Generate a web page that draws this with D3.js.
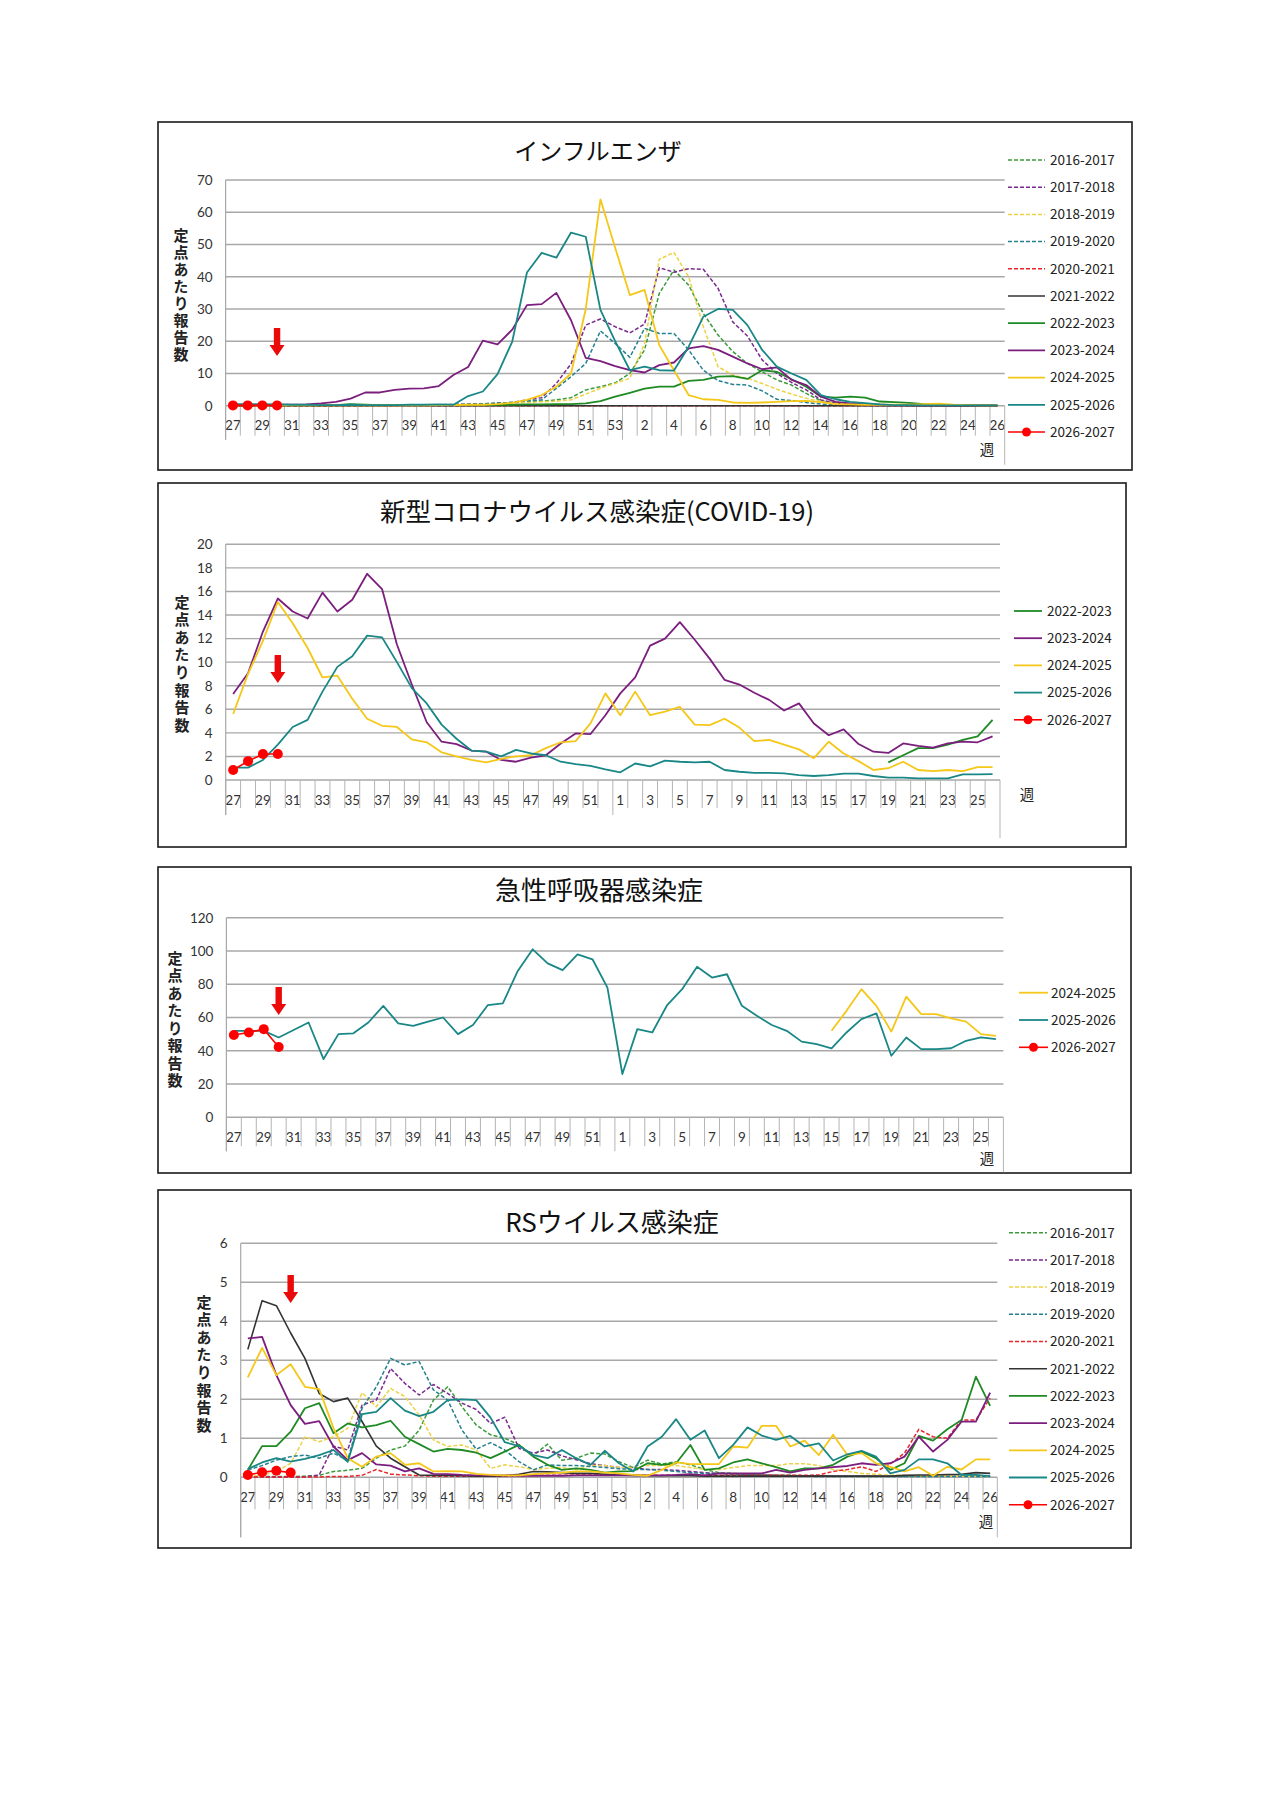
<!DOCTYPE html>
<html>
<head>
<meta charset="utf-8">
<script src="https://cdn.jsdelivr.net/npm/d3@7"></script>
<style>
body { margin: 0; background: #fff; }
svg { display: block; }
</style>
</head>
<body>
<div class="graphic"></div>
<script>
// ---- categories / ticks ----
var fluWeeks = [27,28,29,30,31,32,33,34,35,36,37,38,39,40,41,42,43,44,45,46,47,48,49,50,51,52,53,
	1,2,3,4,5,6,7,8,9,10,11,12,13,14,15,16,17,18,19,20,21,22,23,24,25,26];
var covidWeeks = [27,28,29,30,31,32,33,34,35,36,37,38,39,40,41,42,43,44,45,46,47,48,49,50,51,52,
	1,2,3,4,5,6,7,8,9,10,11,12,13,14,15,16,17,18,19,20,21,22,23,24,25,26];
var ariWeeks = [27,28,29,30,31,32,33,34,35,36,37,38,39,40,41,42,43,44,45,46,47,48,49,50,51,52,
	1,2,3,4,5,6,7,8,9,10,11,12,13,14,15,16,17,18,19,20,21,22,23,24,25,26];
var rsWeeks = [27,28,29,30,31,32,33,34,35,36,37,38,39,40,41,42,43,44,45,46,47,48,49,50,51,52,53,
	1,2,3,4,5,6,7,8,9,10,11,12,13,14,15,16,17,18,19,20,21,22,23,24,25,26];
var newSeasonWeeks = [27,28,29,30];

var fluTicks = [0,10,20,30,40,50,60,70];
var covidTicks = [0,2,4,6,8,10,12,14,16,18,20];
var ariTicks = [0,20,40,60,80,100,120];
var rsTicks = [0,1,2,3,4,5,6];

// ---- インフルエンザ ----
var flu2016_2017 = [0.1,0.1,0.1,0.1,0.1,0.1,0.1,0.1,0.2,0.2,0.2,0.2,0.2,0.3,0.3,0.4,0.5,0.6,0.8,1.0,1.4,1.4,1.8,2.5,4.9,5.9,7.1,
	10,17.3,34.8,42.1,37.4,28.6,21.9,16.8,13.1,10.5,8,6.4,3.8,1.5,0.9,0.6,0.4,0.3,0.2,0.2,0.1,0.1,0.1,0.1,0.1,0.1];
var flu2017_2018 = [0.1,0.1,0.1,0.1,0.1,0.1,0.1,0.1,0.1,0.1,0.2,0.2,0.2,0.2,0.2,0.3,0.4,0.5,0.7,1.0,1.8,2.5,6.9,13,25,26.9,24.5,
	22.6,25.3,42.8,41.4,42.5,42.3,36.4,26,21.6,14.2,10,7.2,4.9,1.8,0.8,0.5,0.3,0.2,0.2,0.1,0.1,0.1,0.1,0.1,0.1,0.1];
var flu2018_2019 = [0.1,0.1,0.1,0.1,0.1,0.1,0.1,0.1,0.1,0.1,0.1,0.1,0.2,0.2,0.2,0.2,0.3,0.4,0.6,0.8,1.0,1.2,1.4,1.8,3.6,5.4,6.9,
	8.5,19.3,45.4,47.5,40,24.5,12.1,9.5,8.5,6.9,5.1,3.6,2.3,1.2,0.8,0.5,0.3,0.2,0.2,0.1,0.1,0.1,0.1,0.1,0.1,0.1];
var flu2019_2020 = [0.1,0.1,0.1,0.1,0.1,0.1,0.1,0.1,0.1,0.1,0.2,0.2,0.2,0.2,0.2,0.3,0.4,0.6,0.8,1.0,1.5,1.8,5.4,9,13.1,23.2,19.3,
	15,24,22.4,22.4,17.3,11,7.8,6.6,6.4,4.6,2,1.6,1,0.5,0.3,0.2,0.1,0.1,0.1,0.1,0.1,0.1,0.1,0.1,0.1,0.1];
var flu2020_2021 = [0,0,0,0,0,0,0,0,0,0,0,0,0,0,0,0,0,0,0,0,0,0,0,0,0,0,0,
	0,0,0,0,0,0,0,0,0,0,0,0,0,0,0,0,0,0,0,0,0,0,0,0,0,0];
var flu2021_2022 = [0,0,0,0,0,0,0,0,0,0,0,0,0,0,0,0,0,0,0,0,0,0,0,0,0,0,0,
	0,0,0,0,0,0,0,0,0,0,0,0,0,0,0,0,0,0,0,0,0,0,0,0,0,0];
var flu2022_2023 = [0.2,0.2,0.2,0.2,0.2,0.2,0.2,0.2,0.5,0.3,0.2,0.2,0.2,0.2,0.2,0.2,0.2,0.2,0.3,0.3,0.4,0.4,0.5,0.5,0.7,1.4,2.8,
	4,5.3,5.9,5.9,7.7,8,9,9.2,8.3,11,10.5,8.2,5.9,2.8,2.5,2.8,2.5,1.3,1.1,0.9,0.5,0.3,0.2,0.1,0.1,0.1];
var flu2023_2024 = [0.2,0.2,0.2,0.3,0.3,0.4,0.7,1.2,2.2,4.1,4.1,4.9,5.3,5.4,6.1,9.5,12,20.2,19,23.6,31.2,31.5,35,26.5,14.8,13.8,12.3,
	11,10.3,12.6,13.4,17.8,18.5,17.3,15.2,13.1,11.3,11.9,8,6.4,2.8,1.2,0.7,0.4,0.3,0.2,0.2,0.1,0.1,0.1,0.1,0.1,0.1];
var flu2024_2025 = [0.1,0.1,0.1,0.1,0.1,0.1,0.1,0.1,0.1,0.1,0.1,0.1,0.1,0.1,0.2,0.2,0.3,0.3,0.5,0.9,1.8,3.3,5.9,10,30,64,49,
	34.3,35.9,18.8,11,3.3,2,1.8,1,0.9,1,1.2,1.4,1.5,1.1,0.5,0.4,0.3,0.3,0.3,0.3,0.5,0.6,0.3,0.2,0.1,0.1];
var flu2025_2026 = [0.5,0.5,0.5,0.4,0.3,0.3,0.2,0.2,0.3,0.2,0.2,0.2,0.3,0.3,0.4,0.3,3,4.4,9.8,19.9,41.3,47.4,45.9,53.7,52.4,29.7,20,
	11,12.1,11,10.9,18.3,27.6,30,29.7,25,17.3,12.1,10,8,3.3,2,1.2,0.8,0.4,0.2,0.2,0.1,0.1,0.1,0.1,0.1,0.1];
var flu2026_2027 = [0.1,0.1,0.1,0.1];

// ---- 新型コロナ ----
var cov2022_2023Weeks = [19,20,21,22,23,24,25,26];
var cov2022_2023 = [1.5,2.1,2.7,2.7,3,3.4,3.7,5.1];
var cov2023_2024 = [7.3,9.05,12.6,15.4,14.3,13.7,15.9,14.3,15.3,17.5,16.2,11.5,8.1,4.9,3.25,3.05,2.5,2.4,1.7,1.55,1.9,2.1,3.1,3.95,3.9,5.5,
	7.35,8.7,11.4,12,13.4,11.9,10.3,8.5,8.1,7.4,6.8,5.9,6.5,4.8,3.8,4.3,3.05,2.4,2.3,3.1,2.9,2.75,3.1,3.25,3.2,3.7];
var cov2024_2025 = [5.6,9,11.8,15.1,13.3,11.2,8.7,8.85,6.9,5.2,4.6,4.5,3.45,3.2,2.35,2,1.7,1.5,1.8,2,2.1,2.7,3.2,3.3,4.8,7.35,
	5.5,7.5,5.5,5.8,6.2,4.7,4.65,5.2,4.45,3.3,3.4,3,2.6,1.85,3.25,2.25,1.6,0.85,1,1.55,0.85,0.75,0.85,0.75,1.1,1.1];
var cov2025_2026 = [1.05,1.05,1.7,3,4.5,5.1,7.5,9.6,10.5,12.25,12.1,10,7.8,6.5,4.7,3.5,2.5,2.4,2,2.55,2.25,2.1,1.55,1.35,1.2,0.9,
	0.65,1.4,1.15,1.65,1.55,1.5,1.55,0.85,0.7,0.6,0.6,0.57,0.42,0.34,0.42,0.54,0.54,0.34,0.2,0.2,0.14,0.14,0.14,0.48,0.48,0.5];
var cov2026_2027 = [0.85,1.6,2.2,2.2];

// ---- 急性呼吸器感染症 ----
var ari2024_2025Weeks = [15,16,17,18,19,20,21,22,23,24,25,26];
var ari2024_2025 = [52,64,77,67,51.5,72.5,62,62,59.5,57.5,50,49];
var ari2025_2026 = [52,52,52,48,52.5,57,35,50,50.5,57,67,56.5,55,57.5,60,50,55.5,67.5,68.5,88,101,92.5,88.5,98,95,78,
	26,53,51,67.5,77,90.5,84,86,67,61,55.5,52,45.5,44,41.5,51,59,62.5,37,48,41,41,41.5,46,48,47];
var ari2026_2027 = [49.5,51,53,42.3];

// ---- RSウイルス ----
var rs2016_2017 = [0.02,0.02,0.02,0.02,0.03,0.05,0.15,0.18,0.23,0.49,0.7,0.8,1.21,1.98,2.32,1.81,1.34,1.09,1.0,0.83,0.56,0.85,0.44,0.49,0.62,0.6,0.4,
	0.25,0.44,0.34,0.4,0.32,0.2,0.12,0.1,0.08,0.06,0.05,0.05,0.04,0.04,0.03,0.03,0.03,0.03,0.03,0.03,0.03,0.03,0.03,0.03,0.03,0.03];
var rs2017_2018 = [0.01,0.01,0.01,0.01,0.01,0.06,0.8,0.7,1.85,1.98,2.79,2.41,2.11,2.38,2.15,1.9,1.74,1.38,1.54,0.74,0.62,0.7,0.55,0.45,0.35,0.3,0.25,
	0.25,0.2,0.2,0.18,0.15,0.12,0.1,0.08,0.06,0.05,0.05,0.04,0.04,0.04,0.03,0.03,0.03,0.03,0.03,0.03,0.03,0.03,0.03,0.03,0.03,0.03];
var rs2018_2019 = [0.02,0.05,0.15,0.36,1.04,0.91,1.04,1.26,2.17,1.81,2.28,2.07,1.6,0.96,0.79,0.83,0.7,0.23,0.32,0.27,0.2,0.23,0.25,0.2,0.3,0.3,0.25,
	0.25,0.3,0.3,0.3,0.25,0.2,0.2,0.25,0.3,0.3,0.3,0.35,0.35,0.3,0.2,0.15,0.1,0.08,0.05,0.05,0.04,0.04,0.03,0.03,0.03,0.03];
var rs2019_2020 = [0.19,0.3,0.44,0.53,0.57,0.49,0.62,0.44,1.77,2.32,3.05,2.88,2.97,2.24,1.98,1.21,0.72,0.89,0.7,0.4,0.19,0.32,0.3,0.3,0.28,0.25,0.22,
	0.2,0.2,0.18,0.15,0.12,0.1,0.1,0.08,0.06,0.05,0.04,0.03,0.03,0.02,0.02,0.02,0.02,0.02,0.02,0.02,0.02,0.02,0.02,0.02,0.02,0.02];
var rs2020_2021 = [0.01,0.01,0.01,0.01,0.01,0.01,0.02,0.02,0.05,0.2,0.08,0.06,0.04,0.03,0.03,0.03,0.03,0.03,0.03,0.04,0.05,0.05,0.05,0.06,0.06,0.06,0.06,
	0.06,0.05,0.05,0.05,0.05,0.05,0.05,0.05,0.05,0.05,0.05,0.05,0.05,0.06,0.15,0.2,0.27,0.15,0.34,0.62,1.23,1.04,1.0,1.47,1.47,2.03];
var rs2021_2022 = [3.28,4.53,4.4,3.7,3.05,2.15,1.94,2.03,1.43,0.8,0.49,0.27,0.06,0.05,0.05,0.04,0.03,0.03,0.04,0.08,0.15,0.14,0.12,0.1,0.1,0.08,0.06,
	0.05,0.04,0.04,0.04,0.04,0.03,0.03,0.03,0.03,0.03,0.03,0.03,0.03,0.03,0.03,0.03,0.03,0.03,0.03,0.05,0.06,0.06,0.07,0.08,0.12,0.1];
var rs2022_2023 = [0.19,0.8,0.8,1.17,1.77,1.9,1.13,1.38,1.28,1.34,1.45,1.04,0.85,0.66,0.73,0.7,0.63,0.49,0.66,0.83,0.53,0.32,0.19,0.23,0.19,0.12,0.15,
	0.16,0.36,0.32,0.36,0.83,0.19,0.23,0.38,0.46,0.36,0.26,0.15,0.23,0.23,0.32,0.53,0.66,0.49,0.19,0.36,1.06,0.94,1.23,1.47,2.58,1.83];
var rs2023_2024 = [3.56,3.6,2.62,1.85,1.37,1.44,0.79,0.44,0.62,0.33,0.3,0.15,0.23,0.09,0.08,0.06,0.05,0.05,0.05,0.04,0.04,0.04,0.04,0.05,0.05,0.05,0.05,
	0.05,0.05,0.05,0.06,0.08,0.05,0.1,0.1,0.1,0.1,0.19,0.12,0.19,0.23,0.26,0.29,0.36,0.32,0.36,0.53,1.04,0.66,0.96,1.43,1.43,2.17];
var rs2024_2025 = [2.56,3.32,2.62,2.9,2.32,2.26,1.26,0.49,0.27,0.53,0.62,0.32,0.36,0.15,0.16,0.15,0.09,0.06,0.05,0.05,0.08,0.1,0.12,0.15,0.15,0.12,0.1,
	0.06,0.04,0.19,0.38,0.34,0.34,0.34,0.79,0.76,1.32,1.32,0.79,0.94,0.57,1.09,0.57,0.62,0.36,0.27,0.15,0.26,0.04,0.27,0.2,0.46,0.46];
var rs2025_2026 = [0.21,0.38,0.49,0.4,0.47,0.57,0.7,0.4,1.62,1.68,2.03,1.71,1.57,1.68,1.98,2,1.98,1.53,0.9,0.8,0.57,0.49,0.7,0.49,0.32,0.68,0.36,
	0.15,0.79,1.04,1.49,0.96,1.2,0.49,0.83,1.28,1.07,0.96,1.06,0.79,0.87,0.43,0.59,0.68,0.53,0.1,0.19,0.46,0.46,0.36,0.06,0.06,0.03];
var rs2026_2027 = [0.06,0.13,0.17,0.12];

var currentWeek = 30;

// ---- styles ----
var seasonStyle = {
	"2016-2017": {color: "#3b9b3b", dash: "4,2", w: 1.5},
	"2017-2018": {color: "#7a2a8e", dash: "4,2", w: 1.5},
	"2018-2019": {color: "#eed245", dash: "4,2", w: 1.5},
	"2019-2020": {color: "#25808f", dash: "4,2", w: 1.5},
	"2020-2021": {color: "#e8252b", dash: "4,2", w: 1.5},
	"2021-2022": {color: "#333333", dash: null, w: 1.6},
	"2022-2023": {color: "#1f8a24", dash: null, w: 1.8},
	"2023-2024": {color: "#7b1e7e", dash: null, w: 1.8},
	"2024-2025": {color: "#f5c718", dash: null, w: 1.8},
	"2025-2026": {color: "#1a8787", dash: null, w: 1.8},
	"2026-2027": {color: "#ff0000", dash: null, w: 1.6, marker: true}
};

var width = 1280;
var height = 1810;
var svg = d3.select("div.graphic").append("svg")
	.attr("width", width)
	.attr("height", height);

var numFont = "Lato, 'Noto Sans', sans-serif";
var jpFont = "'Noto Sans CJK JP', 'Noto Sans', sans-serif";

var panels = [
	{
		title: "インフルエンザ", titleX: 598, titleY: 151, titleSize: 24,
		box: [158, 122, 1132, 470],
		left: 225.6, right: 1004.7, top: 180, bottom: 405.7,
		weeks: fluWeeks, ticks: fluTicks, sep: 27,
		tickLen: 30, leftLen: 34, sepLen: 34, rightLen: 59,
		yTitleX: 181, yTitleY: 235, yTitleStep: 17.1,
		weekX: 987, weekY: 450,
		legLine: [1008, 1045], legText: 1050, legY: 160, legStep: 27.2,
		arrowTop: 328,
		series: [
			{name: "2016-2017", values: flu2016_2017},
			{name: "2017-2018", values: flu2017_2018},
			{name: "2018-2019", values: flu2018_2019},
			{name: "2019-2020", values: flu2019_2020},
			{name: "2020-2021", values: flu2020_2021},
			{name: "2021-2022", values: flu2021_2022},
			{name: "2022-2023", values: flu2022_2023},
			{name: "2023-2024", values: flu2023_2024},
			{name: "2024-2025", values: flu2024_2025},
			{name: "2025-2026", values: flu2025_2026},
			{name: "2026-2027", values: flu2026_2027, weeks: newSeasonWeeks}
		]
	},
	{
		title: "新型コロナウイルス感染症(COVID-19)", titleX: 597, titleY: 512, titleSize: 25.5,
		box: [158, 483, 1126, 847],
		left: 225.7, right: 1000, top: 544.3, bottom: 780,
		weeks: covidWeeks, ticks: covidTicks, sep: 26,
		tickLen: 28, leftLen: 35, sepLen: 35, rightLen: 58,
		yTitleX: 182, yTitleY: 602, yTitleStep: 17.6,
		weekX: 1027, weekY: 795,
		legLine: [1014, 1042], legText: 1047, legY: 611, legStep: 27.2,
		arrowTop: 655,
		series: [
			{name: "2022-2023", values: cov2022_2023, weeks: cov2022_2023Weeks},
			{name: "2023-2024", values: cov2023_2024},
			{name: "2024-2025", values: cov2024_2025},
			{name: "2025-2026", values: cov2025_2026},
			{name: "2026-2027", values: cov2026_2027, weeks: newSeasonWeeks}
		]
	},
	{
		title: "急性呼吸器感染症", titleX: 599, titleY: 891, titleSize: 26,
		box: [158, 867, 1131, 1173],
		left: 226.4, right: 1003.4, top: 917.7, bottom: 1117.3,
		weeks: ariWeeks, ticks: ariTicks, sep: 26,
		tickLen: 29, leftLen: 34, sepLen: 34, rightLen: 55,
		yTitleX: 175, yTitleY: 958, yTitleStep: 17.5,
		weekX: 987, weekY: 1159,
		legLine: [1019, 1048], legText: 1051, legY: 992.7, legStep: 27.3,
		arrowTop: 987,
		series: [
			{name: "2024-2025", values: ari2024_2025, weeks: ari2024_2025Weeks},
			{name: "2025-2026", values: ari2025_2026},
			{name: "2026-2027", values: ari2026_2027, weeks: newSeasonWeeks}
		]
	},
	{
		title: "RSウイルス感染症", titleX: 612, titleY: 1223, titleSize: 26,
		box: [158, 1190, 1131, 1548],
		left: 240.7, right: 997.3, top: 1243.3, bottom: 1477.3,
		weeks: rsWeeks, ticks: rsTicks, sep: 27,
		tickLen: 32, leftLen: 60, sepLen: 32, rightLen: 60,
		yTitleX: 204, yTitleY: 1302, yTitleStep: 17.6,
		weekX: 986, weekY: 1522,
		legLine: [1009, 1047], legText: 1050, legY: 1232.7, legStep: 27.2,
		arrowTop: 1275,
		series: [
			{name: "2016-2017", values: rs2016_2017},
			{name: "2017-2018", values: rs2017_2018},
			{name: "2018-2019", values: rs2018_2019},
			{name: "2019-2020", values: rs2019_2020},
			{name: "2020-2021", values: rs2020_2021},
			{name: "2021-2022", values: rs2021_2022},
			{name: "2022-2023", values: rs2022_2023},
			{name: "2023-2024", values: rs2023_2024},
			{name: "2024-2025", values: rs2024_2025},
			{name: "2025-2026", values: rs2025_2026},
			{name: "2026-2027", values: rs2026_2027, weeks: newSeasonWeeks}
		]
	}
];

function drawPanel(p) {
	var g = svg.append("g");

	g.append("rect")
		.attr("x", p.box[0]).attr("y", p.box[1])
		.attr("width", p.box[2] - p.box[0]).attr("height", p.box[3] - p.box[1])
		.attr("fill", "#fff").attr("stroke", "#1a1a1a").attr("stroke-width", 1.6);

	var x = d3.scaleBand()
		.domain(d3.range(p.weeks.length))
		.range([p.left, p.right])
		.paddingInner(0).paddingOuter(0);
	var bw = x.bandwidth();
	var y = d3.scaleLinear()
		.domain([0, p.ticks[p.ticks.length - 1]])
		.range([p.bottom, p.top]);

	// gridlines
	g.append("g").selectAll("line")
		.data(p.ticks)
		.enter().append("line")
		.attr("x1", p.left).attr("x2", p.right)
		.attr("y1", function(t){ return y(t); })
		.attr("y2", function(t){ return y(t); })
		.attr("stroke", "#a8a8a8").attr("stroke-width", 1.4);

	// y axis
	var yAxis = g.append("g")
		.attr("transform", "translate(" + p.left + ",0)")
		.call(d3.axisLeft(y).tickValues(p.ticks)
			.tickFormat(function(t){ return String(t); })
			.tickSize(0).tickPadding(13));
	yAxis.select(".domain").remove();
	yAxis.selectAll("text")
		.attr("font-family", numFont).attr("font-size", 13.5).attr("fill", "#333");

	// x axis labels, every second week
	var labelIdx = d3.range(0, p.weeks.length, 2);
	var xAxis = g.append("g")
		.attr("transform", "translate(0," + p.bottom + ")")
		.call(d3.axisBottom(x).tickValues(labelIdx)
			.tickFormat(function(i){ return p.weeks[i]; })
			.tickSize(0).tickPadding(15));
	xAxis.select(".domain").remove();
	xAxis.selectAll("text")
		.attr("font-family", numFont).attr("font-size", 13.5).attr("fill", "#333");

	// tick marks between categories
	var bounds = d3.range(p.weeks.length + 1);
	g.append("g").selectAll("line")
		.data(bounds)
		.enter().append("line")
		.attr("x1", function(j){ return p.left + j * bw; })
		.attr("x2", function(j){ return p.left + j * bw; })
		.attr("y1", p.bottom)
		.attr("y2", function(j){
			if (j == 0) return p.bottom + p.leftLen;
			if (j == p.sep) return p.bottom + p.sepLen;
			if (j == p.weeks.length) return p.bottom + p.rightLen;
			return p.bottom + p.tickLen;
		})
		.attr("stroke", "#b4b4b4").attr("stroke-width", 1);

	// left axis line
	g.append("line")
		.attr("x1", p.left).attr("x2", p.left)
		.attr("y1", p.top).attr("y2", p.bottom + p.leftLen)
		.attr("stroke", "#a8a8a8").attr("stroke-width", 1.2);

	// series lines
	var line = d3.line()
		.defined(function(d){ return d.v != null; })
		.x(function(d){ return x(d.i) + bw / 2; })
		.y(function(d){ return y(d.v); });

	p.series.forEach(function(s){
		var st = seasonStyle[s.name];
		var wk = s.weeks || p.weeks;
		var pts = s.values.map(function(v, k){
			return {i: p.weeks.indexOf(wk[k]), v: v};
		});
		g.append("path")
			.datum(pts)
			.attr("d", line)
			.attr("fill", "none")
			.attr("stroke", st.color)
			.attr("stroke-width", st.w)
			.attr("stroke-dasharray", st.dash)
			.attr("stroke-linejoin", "round");
		if (st.marker) {
			g.append("g").selectAll("circle")
				.data(pts)
				.enter().append("circle")
				.attr("cx", function(d){ return x(d.i) + bw / 2; })
				.attr("cy", function(d){ return y(d.v); })
				.attr("r", 5)
				.attr("fill", st.color);
		}
	});

	// current week arrow
	var ax = x(p.weeks.indexOf(currentWeek)) + bw / 2;
	var at = p.arrowTop;
	g.append("path")
		.attr("d", "M" + (ax - 3.2) + "," + at + "H" + (ax + 3.2) + "V" + (at + 17) +
			"H" + (ax + 7.5) + "L" + ax + "," + (at + 28) + "L" + (ax - 7.5) + "," + (at + 17) +
			"H" + (ax - 3.2) + "Z")
		.attr("fill", "#ea0a0a");

	// title
	g.append("text")
		.attr("x", p.titleX).attr("y", p.titleY)
		.attr("dy", "0.36em")
		.attr("text-anchor", "middle")
		.attr("font-family", jpFont).attr("font-size", p.titleSize)
		.attr("fill", "#111")
		.text(p.title);

	// vertical y title (one text, stacked upright)
	var yTitleSize = 15;
	g.append("text")
		.attr("x", p.yTitleX)
		.attr("y", p.yTitleY - yTitleSize / 2)
		.style("writing-mode", "vertical-rl")
		.style("text-orientation", "upright")
		.attr("letter-spacing", p.yTitleStep - yTitleSize)
		.attr("font-family", jpFont).attr("font-size", yTitleSize).attr("font-weight", "bold")
		.attr("fill", "#222")
		.text("定点あたり報告数");

	// 週
	g.append("text")
		.attr("x", p.weekX).attr("y", p.weekY)
		.attr("dy", "0.36em")
		.attr("text-anchor", "middle")
		.attr("font-family", jpFont).attr("font-size", 14.5)
		.attr("fill", "#222")
		.text("週");

	// legend
	var leg = g.append("g").selectAll("g")
		.data(p.series)
		.enter().append("g")
		.attr("transform", function(s, k){ return "translate(0," + (p.legY + k * p.legStep) + ")"; });
	leg.append("line")
		.attr("x1", p.legLine[0]).attr("x2", p.legLine[1])
		.attr("stroke", function(s){ return seasonStyle[s.name].color; })
		.attr("stroke-width", function(s){ return seasonStyle[s.name].w; })
		.attr("stroke-dasharray", function(s){ return seasonStyle[s.name].dash; });
	leg.filter(function(s){ return seasonStyle[s.name].marker; })
		.append("circle")
		.attr("cx", (p.legLine[0] + p.legLine[1]) / 2)
		.attr("r", 4.5)
		.attr("fill", function(s){ return seasonStyle[s.name].color; });
	leg.append("text")
		.attr("x", p.legText)
		.attr("dy", "0.36em")
		.attr("font-family", jpFont).attr("font-size", 13.5)
		.attr("fill", "#222")
		.text(function(s){ return s.name; });
}

panels.forEach(drawPanel);
</script>
</body>
</html>
